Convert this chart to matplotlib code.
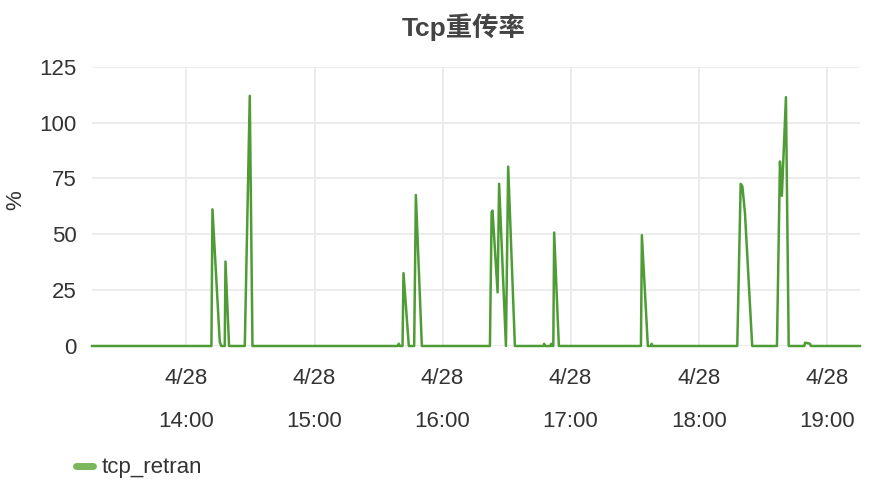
import pandas as pd
import matplotlib
matplotlib.use("Agg")
import matplotlib.pyplot as plt
import matplotlib.dates as mdates
from matplotlib.lines import Line2D

plt.rcParams["font.family"] = ["Liberation Sans", "Noto Sans CJK SC", "DejaVu Sans"]

day = "2019-04-28 "

times = [
    "13:15:45", "14:11:42", "14:12:11", "14:15:36", "14:16:18",
    "14:17:57", "14:18:17", "14:19:58", "14:27:20", "14:29:40", "14:30:56",
    "15:39:00", "15:39:30", "15:40:00",
    "15:41:15", "15:41:42", "15:44:12", "15:46:42", "15:47:30", "15:50:18",
    "16:22:12", "16:23:00", "16:23:24", "16:25:48", "16:26:30", "16:29:42",
    "16:30:45", "16:33:54",
    "16:47:18", "16:47:36", "16:48:00", "16:50:36", "16:50:54", "16:51:18",
    "16:51:54", "16:52:18", "16:54:30",
    "17:32:58", "17:33:24", "17:36:12", "17:37:36", "17:37:58", "17:38:24",
    "18:18:06", "18:19:42", "18:20:30", "18:21:42", "18:25:06",
    "18:36:42", "18:38:06", "18:39:00", "18:40:54", "18:42:12",
    "18:49:30", "18:49:54", "18:52:12", "18:52:36", "19:15:36",
]
tcp_retran = [
    0, 0, 61.2, 2, 0,
    0, 37.8, 0, 0, 112, 0,
    0, 1, 0,
    0, 32.6, 0, 0, 67.6, 0,
    0, 59.9, 60.6, 24, 72.6, 0,
    80.3, 0,
    0, 1, 0, 0, 1, 0,
    0, 50.8, 0,
    0, 49.6, 0, 0, 1, 0,
    0, 72.6, 71.4, 59.6, 0,
    0, 82.6, 67.2, 111.4, 0,
    0, 1.5, 1, 0, 0,
]

x_start = day + "13:15:45"
x_end = day + "19:15:36"
y_ticks = [0, 25, 50, 75, 100, 125]

t = pd.to_datetime([day + s for s in times])

fig = plt.figure(figsize=(8.96, 4.88), dpi=100)
ax = fig.add_axes([0.1027, 0.291, 0.8571, 0.5722])

line_color = "#4f9c36"
ax.plot(t, tcp_retran, color=line_color, lw=1.8, clip_on=False, zorder=3)

ax.set_xlim(pd.Timestamp(x_start), pd.Timestamp(x_end))
ax.set_ylim(0, 125)
ax.set_yticks(y_ticks)
ax.xaxis.set_major_locator(mdates.HourLocator())
ax.xaxis.set_major_formatter(mdates.DateFormatter("%-m/%d\n%H:%M"))

ax.grid(True, color="#e9e9e9", lw=1.2)
ax.set_axisbelow(True)
for s in ax.spines.values():
    s.set_visible(False)
ax.tick_params(axis="both", length=0, labelsize=16, labelcolor="#333333")
ax.tick_params(axis="y", pad=11)
ax.tick_params(axis="x", pad=16)
for lab in ax.get_xticklabels():
    lab.set_linespacing(2.35)

fig.text(0.018, 0.59, "%", rotation=90, fontsize=16, color="#333333",
         ha="center", va="center")

fig.text(0.518, 0.945, "Tcp重传率", fontsize=19, fontweight="bold",
         color="#444444", ha="center", va="center")

handle = Line2D([], [], color="#7ab65c", lw=5, solid_capstyle="round")
fig.legend([handle], ["tcp_retran"], loc="center left",
           bbox_to_anchor=(0.0848, 0.041), frameon=False, fontsize=16,
           handlelength=0.75, handletextpad=0.4, borderpad=0,
           borderaxespad=0, labelcolor="#333333")

fig.savefig("out.png", dpi=100)
